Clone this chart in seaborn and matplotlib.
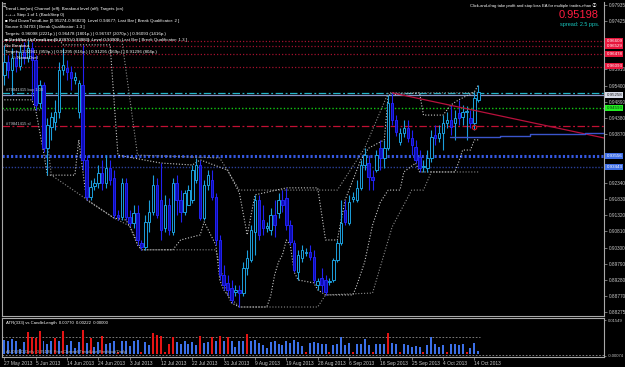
import matplotlib
matplotlib.use("Agg")
import matplotlib.pyplot as plt
from matplotlib.transforms import blended_transform_factory
import pandas as pd
import seaborn as sns

# ---------------- data ----------------
opens = [.9573,.9614,.9589,.9627,.9602,.9646,.9627,.9658,.9620,.9485,
         .9542,.9343,.9410,.9425,.9457,.9589,.9595,.9583,.9557,.9457,
         .9542,.9306,.9189,.9224,.9233,.9265,.9233,.9281,.9249,.9133,
         .9126,.9233,.9126,.9107,.9139,.9045,.9032,.9111,.9142,.9227,
         .9180,.9092,.9164,.9079,.9233,.9180,.9142,.9164,.9180,.9243,
         .9290,.9123,.9227,.9243,.9189,.9054,.8944,.8919,.8903,.8890,
         .8897,.8887,.8966,.8991,.9079,.9180,.9117,.9092,.9085,.9133,
         .9139,.9180,.9186,.9101,.9045,.8953,.8997,.9013,.9016,.9000,
         .8912,.8934,.8928,.8922,.8928,.8991,.9045,.9148,.9107,.9183,
         .9180,.9218,.9290,.9296,.9252,.9274,.9343,.9312,.9343,.9485,
         .9432,.9362,.9391,.9406,.9375,.9347,.9315,.9284,.9281,.9312,
         .9384,.9375,.9391,.9422,.9432,.9422,.9454,.9441,.9457,.9438,
         .9422,.9495]
closes = [.9614,.9589,.9627,.9602,.9646,.9627,.9658,.9620,.9479,.9542,
          .9343,.9416,.9441,.9457,.9589,.9605,.9583,.9564,.9567,.9548,
          .9306,.9189,.9221,.9233,.9265,.9233,.9281,.9243,.9133,.9126,
          .9233,.9126,.9107,.9139,.9054,.9032,.9111,.9142,.9227,.9133,
          .9085,.9164,.9085,.9233,.9180,.9142,.9202,.9211,.9274,.9290,
          .9123,.9227,.9258,.9189,.9054,.8944,.8912,.8897,.8865,.8897,
          .8887,.8966,.8997,.9085,.9180,.9070,.9092,.9098,.9133,.9101,
          .9180,.9164,.9101,.9048,.8960,.9007,.9023,.9016,.9000,.8928,
          .8925,.8912,.8890,.8925,.8991,.9045,.9107,.9111,.9173,.9189,
          .9218,.9290,.9321,.9252,.9243,.9321,.9312,.9343,.9485,.9432,
          .9394,.9391,.9406,.9375,.9353,.9306,.9281,.9287,.9312,.9378,
          .9375,.9391,.9422,.9432,.9410,.9438,.9438,.9457,.9460,.9422,
          .9501,.9520]
highs = [.9668,.9636,.9658,.9652,.9668,.9677,.9683,.9677,.9636,.9557,
         .9551,.9438,.9457,.9495,.9614,.9658,.9620,.9602,.9583,.9557,
         .9668,.9321,.9243,.9249,.9290,.9306,.9321,.9306,.9274,.9148,
         .9249,.9249,.9148,.9164,.9164,.9054,.9133,.9180,.9258,.9249,
         .9296,.9196,.9186,.9249,.9258,.9211,.9211,.9227,.9290,.9312,
         .9306,.9243,.9274,.9274,.9202,.9070,.8975,.8944,.8928,.8912,
         .8912,.8985,.9023,.9101,.9196,.9196,.9164,.9111,.9155,.9180,
         .9202,.9211,.9218,.9117,.9054,.9023,.9038,.9029,.9038,.9023,
         .8934,.8966,.8944,.8934,.8997,.9054,.9180,.9180,.9196,.9205,
         .9243,.9306,.9343,.9321,.9274,.9337,.9369,.9369,.9510,.9517,
         .9447,.9406,.9432,.9432,.9400,.9369,.9337,.9306,.9337,.9400,
         .9416,.9416,.9447,.9457,.9479,.9463,.9495,.9479,.9476,.9463,
         .9520,.9542]
lows = [.9542,.9564,.9510,.9583,.9589,.9608,.9614,.9495,.9463,.9469,
        .9331,.9258,.9369,.9400,.9438,.9573,.9557,.9526,.9545,.9438,
        .9274,.9180,.9180,.9211,.9218,.9211,.9218,.9227,.9123,.9117,
        .9117,.9117,.9098,.9092,.9038,.9023,.9023,.9079,.9133,.9123,
        .9054,.9079,.9070,.9070,.9133,.9111,.9133,.9164,.9170,.9233,
        .9117,.9117,.9211,.9180,.9038,.8928,.8897,.8881,.8856,.8878,
        .8843,.8878,.8944,.8985,.9007,.9054,.9070,.9079,.9070,.9063,
        .9123,.9142,.9085,.9038,.8953,.8928,.8985,.9004,.8991,.8919,
        .8897,.8890,.8881,.8912,.8922,.8985,.9038,.9101,.9101,.9173,
        .9173,.9211,.9274,.9211,.9211,.9268,.9274,.9281,.9337,.9416,
        .9381,.9353,.9378,.9362,.9321,.9296,.9268,.9268,.9268,.9299,
        .9353,.9362,.9337,.9406,.9384,.9369,.9416,.9416,.9369,.9406,
        .9400,.9488]

# channel lines (bar index, price) as read
upper_fast_x = [0, 14, 15, 27, 29, 40, 48, 50, 57, 60, 62, 64, 72, 80, 82, 85, 87, 91, 93, 97, 98, 106, 107, 112, 114, 116, 120, 121]
upper_fast_y = [.9683, .9683, .9668, .9668, .9321, .9296, .9290, .9306, .9274, .9202, .9070, .9196, .9218, .9218, .9054, .9054, .9180, .9306, .9343, .9369, .9510, .9517, .9447, .9447, .9479, .9495, .9520, .9542]
lower_fast_x = [0, 7, 8, 10, 11, 18, 19, 20, 21, 28, 31, 32, 34, 35, 43, 45, 50, 51, 54, 55, 56, 57, 58, 60, 67, 68, 69, 70, 71, 72, 73, 74, 75, 79, 80, 82, 89, 90, 92, 94, 96, 98, 101, 102, 105, 106, 115, 116, 117, 119, 120, 121]
lower_fast_y = [.9495, .9495, .9463, .9331, .9258, .9258, .9369, .9274, .9180, .9123, .9117, .9098, .9038, .9023, .9023, .9054, .9070, .9111, .9038, .8928, .8897, .8881, .8856, .8843, .8843, .8878, .8944, .8985, .9007, .9054, .9038, .8953, .8928, .8919, .8897, .8881, .8881, .8912, .8985, .9101, .9173, .9211, .9211, .9268, .9296, .9268, .9268, .9299, .9337, .9337, .9369, .9369]
upper_slow_x = [0, 30, 34, 55, 60, 85, 92, 98, 121]
upper_slow_y = [.9683, .9683, .9321, .9312, .9211, .9211, .9343, .9517, .9517]
lower_slow_x = [0, 10, 12, 28, 32, 35, 54, 57, 60, 80, 82, 94, 99, 104, 107, 109, 121]
lower_slow_y = [.9463, .9463, .9258, .9123, .9098, .9023, .9023, .8881, .8843, .8843, .8881, .8887, .9095, .9211, .9211, .9268, .9268]

# ATR / candle length histogram
atr_values = [.0065,.0062,.0068,.0060,.0025,.0055,.0100,.0078,.0075,.0105,
              .0062,.0045,.0058,.0072,.0062,.0105,.0040,.0058,.0030,.0055,
              .0110,.0050,.0075,.0035,.0055,.0082,.0045,.0050,.0062,.0012,
              .0058,.0060,.0038,.0062,.0066,.0012,.0055,.0040,.0095,.0088,
              .0082,.0012,.0045,.0080,.0055,.0048,.0058,.0046,.0055,.0040,
              .0085,.0050,.0055,.0080,.0062,.0085,.0060,.0078,.0058,.0035,
              .0062,.0058,.0090,.0060,.0065,.0050,.0042,.0030,.0055,.0062,
              .0045,.0040,.0060,.0050,.0066,.0055,.0038,.0010,.0050,.0055,
              .0050,.0048,.0045,.0012,.0040,.0048,.0080,.0042,.0050,.0012,
              .0048,.0045,.0068,.0040,.0012,.0048,.0048,.0048,.0098,.0050,
              .0045,.0012,.0048,.0040,.0035,.0038,.0035,.0012,.0040,.0080,
              .0045,.0035,.0040,.0012,.0045,.0045,.0040,.0048,.0012,.0030,
              .0050,.0015]
atr_kind = list("bbbbbbrrrr" "bbbrbrbbbb" "rbrbbrbbbr" "bbbbbrbbrr"
                "rrrrbbbbbb" "rbbrbrbrbb" "bbrbbbbbbb" "bbbbbbbrbb"
                "bbbrbbbbbr" "bbbbrbbbrb" "brbbbbbrbb" "bbbrbbbbrb" "bb")

dates = ["27 May 2013", "5 Jun 2013", "14 Jun 2013", "24 Jun 2013", "3 Jul 2013",
         "12 Jul 2013", "22 Jul 2013", "31 Jul 2013", "9 Aug 2013", "19 Aug 2013",
         "28 Aug 2013", "6 Sep 2013", "16 Sep 2013", "25 Sep 2013", "4 Oct 2013",
         "14 Oct 2013"]
# visible right-axis price labels (the others are covered by level boxes)
price_ticks = [0.97935, 0.97425, 0.95910, 0.95400, 0.94890,
               0.94380, 0.93870, 0.92340, 0.91830, 0.91320,
               0.90810, 0.90300, 0.89790, 0.89280, 0.88770, 0.88275]

# horizontal level lines: (price, colour, style, width)
levels = [
    (0.9680, "#a3102e", (0, (1, 1.6)), 0.9),
    (0.9665, "#a3102e", (0, (1, 1.6)), 0.9),
    (0.9639, "#a3102e", (0, (1, 1.6)), 0.9),
    (0.9598, "#a3102e", (0, (1, 1.6)), 0.9),
    (0.9517, "#22b4c8", (0, (6, 2, 1.5, 2)), 0.9),
    (0.9510, "#8a96c8", "-", 0.9),
    (0.9469, "#12c812", (0, (1, 1.5)), 1.0),
    (0.9413, "#c01033", (0, (6, 2, 1.5, 2)), 0.9),
    (0.9318, "#3558e0", (0, (0.7, 0.7)), 2.2),
    (0.9283, "#2a3f98", (0, (1, 1.2)), 1.0),
]
# right-side price boxes: (price, text, background, foreground)
price_boxes = [
    (0.96725, "0.96609\n0.96529", "#e8163c", "white"),
    (0.9639, "0.96478", "#e8163c", "white"),
    (0.96005, "0.96093", "#e8163c", "white"),
    (0.9510, "0.95258", "#d8dce8", "#202020"),
    (0.9469, "0.94593", "#22ee22", "#103010"),
    (0.9318, "0.93556", "#3f6ee6", "white"),
    (0.9283, "0.93443", "#3f6ee6", "white"),
]

legend_lines = [
    "Trend Line(on) Channel (off); Breakout level (off); Targets (on)",
    "+-+-+ Step 1 of 1 (BackStep 0)",
    "\u25a0 Red DownTrendLine [0.95274-0.96823]: Level 0.94677; Last Bar [ Break Qualificator: 2 ]",
    "Source 0.94703 [ Break Qualificator: 1.3 ]",
    "Targets: 0.96098 (2221p.) | 0.96478 (1801p.) | 0.96747 (2070p.) | 0.96093 (1416p.)",
    "\u25a0 DarkBlue UpTrendLine [0.93870-0.93883]: Level 0.93900; Last Bar [ Break Qualificator: 1.3 ]",
    "No Breakout",
    "Targets: 0.92941 (959p.) | 0.91295 (616p.) | 0.91295 (669p.) | 0.91296 (804p.)",
    "      \u00a9 NameOvel",
]

# ---------------- figure ----------------
sns.set_theme(style="dark", rc={"axes.facecolor": "black", "figure.facecolor": "black"})
plt.rcParams["font.family"] = ["Liberation Sans", "DejaVu Sans"]

W, H = 625, 367
def box(x0, y0, x1, y1):
    return [x0 / W, 1 - y1 / H, (x1 - x0) / W, (y1 - y0) / H]

fig = plt.figure(figsize=(6.25, 3.67), dpi=100, facecolor="black")
ax1 = fig.add_axes(box(2, 2, 604, 316))
ax2 = fig.add_axes(box(2, 318, 604, 357))
XL = (-0.6, -0.6 + 602 / 3.917)

df = pd.DataFrame({"o": opens, "h": highs, "l": lows, "c": closes})
df["i"] = range(len(df))
df["up"] = df["c"] >= df["o"]

UPC, DNC = "#1c9fdc", "#2222f2"
for up, col, fc in [(True, UPC, "black"), (False, DNC, "#0c0cb0")]:
    d = df[df["up"] == up]
    ax1.vlines(d["i"], d["l"], d["h"], color=col, lw=0.8, zorder=4)
    bottoms = d[["o", "c"]].min(axis=1)
    heights = (d["o"] - d["c"]).abs().clip(lower=0.00015)
    ax1.bar(d["i"], heights, bottom=bottoms, width=0.62, color=fc,
            edgecolor=col, linewidth=0.7, zorder=5)

# channels
for xs, ys, col in [(upper_slow_x, upper_slow_y, "#8c8c8c"), (lower_slow_x, lower_slow_y, "#8c8c8c"),
                    (upper_fast_x, upper_fast_y, "#c8c8c8"), (lower_fast_x, lower_fast_y, "#c8c8c8")]:
    sns.lineplot(x=xs, y=ys, ax=ax1, color=col, lw=0.8, sort=False, estimator=None,
                 linestyle=(0, (1, 1.6)), zorder=3)

# level lines and right-side labels
for p, col, ls, lw in levels:
    ax1.axhline(p, color=col, ls=ls, lw=lw, zorder=2)
tr = blended_transform_factory(ax1.transAxes, ax1.transData)
for p, lab, bg, fg in price_boxes:
    ax1.text(1.004, p, lab, transform=tr, fontsize=3.2, color=fg, va="center", ha="left",
             clip_on=False, zorder=20, linespacing=1.1,
             bbox=dict(boxstyle="square,pad=0.22", fc=bg, ec="none"))

# red down trend line and blue up line
sns.lineplot(x=[99, XL[1]], y=[0.9517, 0.9375], ax=ax1, color="#b8103c", lw=0.9, zorder=6)
step_x = [113.9, 126.6, 126.6, 134.3, 134.3, 148.3, 148.3, XL[1]]
step_y = [0.9377, 0.9377, 0.9381, 0.9381, 0.9386, 0.9386, 0.9390, 0.9390]
sns.lineplot(x=step_x, y=step_y, ax=ax1, color="#3a55cc", lw=1.0, sort=False, estimator=None, zorder=6)
ax1.plot([120], [0.9410], marker="o", ms=3.2, mfc="none", mec="#d01020", mew=0.8, zorder=7)

ax1.set_xlim(*XL)
ax1.set_ylim(0.88147, 0.98029)
ax1.set_xticks([])
ax1.set_yticks(price_ticks)
ax1.set_yticklabels([f"{v:.5f}" for v in price_ticks])
ax1.yaxis.tick_right()
ax1.tick_params(axis="y", length=2, width=0.5, color="#a0a0a0", labelsize=3.4,
                labelcolor="#c8c8c8", pad=1.5)
ax1.set_xlabel(""); ax1.set_ylabel("")
for s in ["left", "right", "bottom"]:
    ax1.spines[s].set_visible(True)
    ax1.spines[s].set_color("#a8a8a8")
    ax1.spines[s].set_linewidth(0.8)
ax1.spines["top"].set_visible(False)
ax1.grid(False)

# text overlays
ax1.text(0.002, 0.997, "\u2261", transform=ax1.transAxes, fontsize=4, color="white", va="top", ha="left")
ys_px = [9, 15, 21, 27, 33.5, 40, 46, 52, 58]
for t, y in zip(legend_lines, ys_px):
    fig.text(5 / W, 1 - y / H, t, fontsize=3.2, color="white", va="center", ha="left", zorder=30)
fig.text(596 / W, 1 - 6 / H, "Click-and-drag take profit and stop loss EA for multiple trades-nhan \u24d2",
         fontsize=3.0, color="white", va="center", ha="right",
         family=["Liberation Sans", "Noto Sans CJK JP", "DejaVu Sans"])
fig.text(599 / W, 1 - 15 / H, "0.95198", fontsize=8, color="#ff1c40", va="center", ha="right")
fig.text(599 / W, 1 - 24.5 / H, "spread: 2.5 pps.", fontsize=4, color="#18c8c0", va="center", ha="right")
fig.text(6 / W, 1 - 90 / H, "#79841415 buy 1.00", fontsize=3.0, color="#c0c8d0", va="center", ha="left")
fig.text(6 / W, 1 - 124 / H, "#79841415 sl", fontsize=3.0, color="#c0c8d0", va="center", ha="left")

# ---------------- indicator panel ----------------
atr_df = pd.DataFrame({"i": range(len(atr_values)), "v": atr_values,
                       "k": ["red" if k == "r" else "blue" for k in atr_kind]})
sns.barplot(data=atr_df, x="i", y="v", hue="k", palette={"red": "#e41414", "blue": "#3c70e8"},
            native_scale=True, width=0.5, dodge=False, legend=False, errorbar=None,
            saturation=1, linewidth=0, edgecolor="none", ax=ax2, zorder=3)
ax2.hlines(0.0077, XL[0], 121.5, color="#909090", lw=0.6, ls=(0, (2, 2)), zorder=2)
ax2.axhline(-0.0003, color="#909090", lw=0.6, ls=(0, (2, 2)), zorder=2)
ax2.set_xlim(*XL)
ax2.set_ylim(-0.0012, 0.0164)
ax2.yaxis.tick_right()
ax2.set_yticks([0.01549, -0.00074])
ax2.set_yticklabels(["0.01549", "-0.00074"])
ax2.tick_params(axis="y", length=1.5, width=0.5, color="#a0a0a0", labelsize=3.0,
                labelcolor="#c8c8c8", pad=1.0)
ax2.set_xticks(list(range(0, 121, 8)))
ax2.set_xticklabels(dates, ha="left")
ax2.tick_params(axis="x", length=2, width=0.5, color="#a0a0a0", labelsize=3.5,
                labelcolor="#c8c8c8", pad=1.2, bottom=True)
ax2.set_xlabel(""); ax2.set_ylabel("")
for s in ax2.spines.values():
    s.set_visible(True)
    s.set_color("#a8a8a8")
    s.set_linewidth(0.8)
ax2.grid(False)
ax2.text(0.006, 0.88, "ATR(333) vs CandleLength  0.00770  0.00222  0.00000", transform=ax2.transAxes,
         fontsize=3.1, color="white", va="center", ha="left")
ax2.text(0.006, 0.12, "AUDUSD,Daily  0.95198  PriceChannel/TrendLine Breakout(Daily)", transform=ax2.transAxes,
         fontsize=3.0, color="#b0b0b0", va="center", ha="left", zorder=10)

fig.savefig("out.png", dpi=100, facecolor="black")
